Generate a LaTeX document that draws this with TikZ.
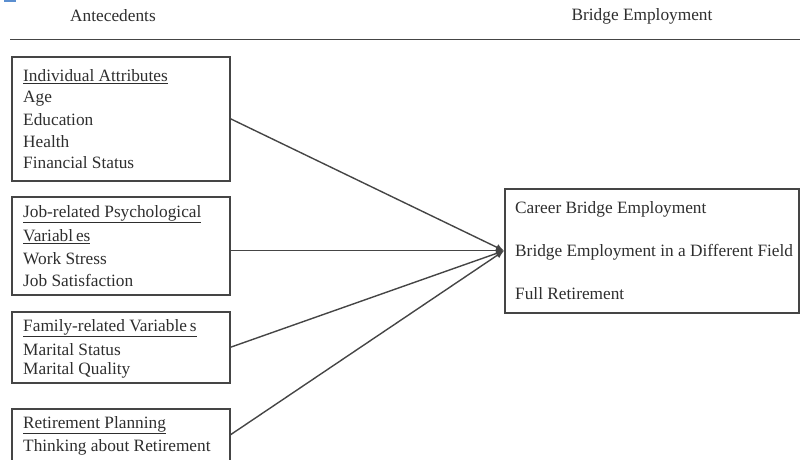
\documentclass[tikz,border=0pt]{standalone}
\usepackage{fontspec}
\setmainfont{Liberation Serif}
\usetikzlibrary{arrows.meta}
\definecolor{ink}{HTML}{2E2E2E}
\definecolor{rule}{HTML}{454545}
\definecolor{corner}{HTML}{5B8FD0}
\tikzset{
  box/.style={draw=rule, line width=1.5pt, anchor=north west, inner sep=0pt},
  txt/.style={anchor=west, inner sep=0pt, text=ink, font=\fontsize{17.3}{20}\selectfont},
  head/.style={anchor=center, inner sep=0pt, text=ink, font=\fontsize{17.3}{20}\selectfont},
  link/.style={draw=rule, line width=1.4pt, -{Latex[length=8pt,width=7pt]}},
}
\newcommand{\ul}[1]{\underline{#1}}
\begin{document}
\begin{tikzpicture}[x=1pt,y=-1pt]
  \useasboundingbox (0,0) rectangle (800,459);
  \clip (0,0) rectangle (800,459);
  \fill[corner] (4,0) rectangle (16,2);

  % column headings and rule
  \node[head] (hA) at (113,16) {Antecedents};
  \node[head] (hB) at (642,16) {Bridge Employment};
  \coordinate (r1) at (10,39.5);
  \coordinate (r2) at (800,39.5);
  \draw[rule, line width=1.6pt] (r1) -- (r2);

  % antecedent boxes
  \node[box, minimum width=218pt, minimum height=124pt] (b1) at (11,56) {};
  \node[box, minimum width=218pt, minimum height=98pt]  (b2) at (11,196) {};
  \node[box, minimum width=218pt, minimum height=71pt]  (b3) at (11,311) {};
  \node[box, minimum width=218pt, minimum height=52pt]  (b4) at (11,408) {};

  % outcome box
  \node[box, minimum width=294pt, minimum height=124pt] (rb) at (504,188) {};

  % box texts
  \node[txt] (t11) at (23,77)  {\ul{Individual Attributes}};
  \node[txt] (t12) at (23,99)  {Age};
  \node[txt] (t13) at (23,120) {Education};
  \node[txt] (t14) at (23,142) {Health};
  \node[txt] (t15) at (23,163) {Financial Status};

  \node[txt] (t21) at (23,214) {\ul{Job-related Psychological}};
  \node[txt] (t22) at (23,237) {\ul{Variabl\,es}};
  \node[txt] (t23) at (23,259) {Work Stress};
  \node[txt] (t24) at (23,280) {Job Satisfaction};

  \node[txt] (t31) at (23,328) {\ul{Family-related Variable\,s}};
  \node[txt] (t32) at (23,350) {Marital Status};
  \node[txt] (t33) at (23,370) {Marital Quality};

  \node[txt] (t41) at (23,425) {\ul{Retirement Planning}};
  \node[txt] (t42) at (23,447) {Thinking about Retirement};

  \node[txt] (o1) at (515,209) {Career Bridge Employment};
  \node[txt] (o2) at (515,252) {Bridge Employment in a Different Field};
  \node[txt] (o3) at (515,294) {Full Retirement};

  % connectors
  \draw[link] (b1.east) -- (rb.west);
  \draw[link] (b2.east |- rb.west) -- (rb.west);
  \draw[link] (b3.east) -- (rb.west);
  \draw[link] (b4.east) -- (rb.west);
\end{tikzpicture}
\end{document}
